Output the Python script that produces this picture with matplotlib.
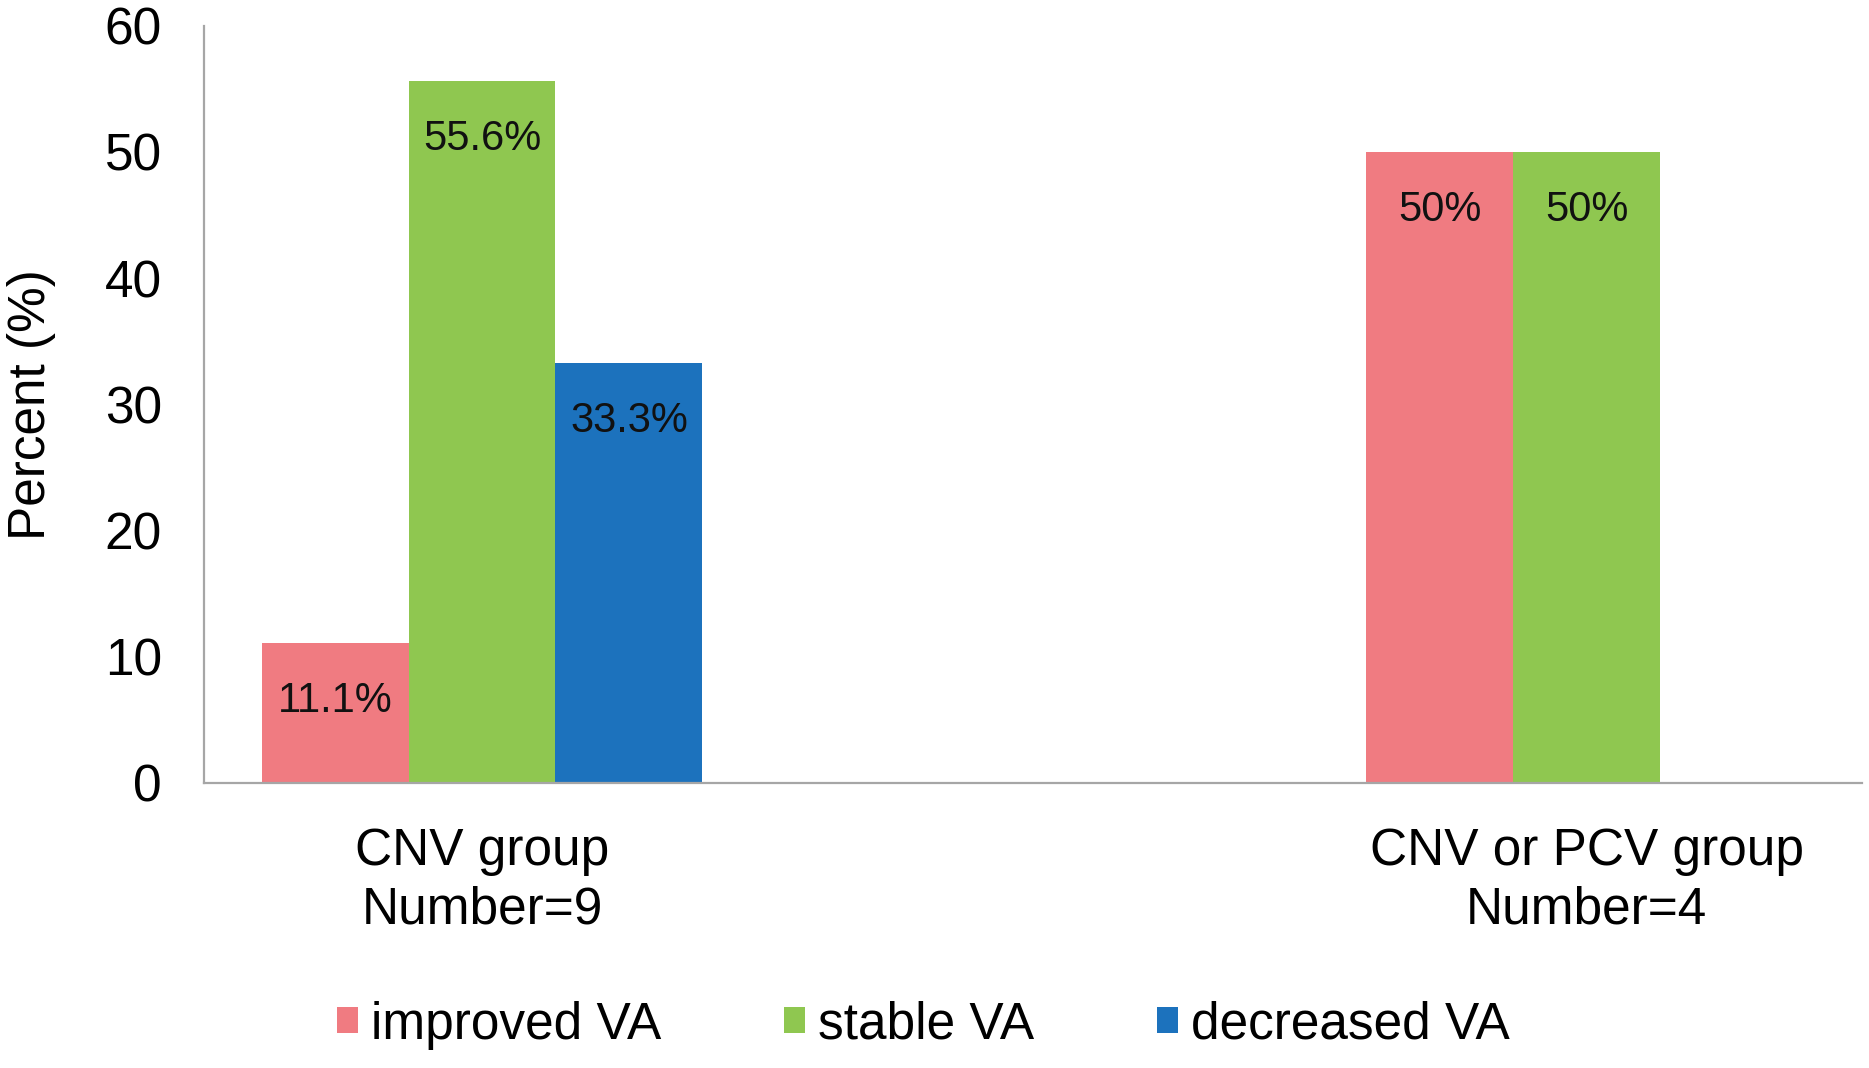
import matplotlib
matplotlib.use('Agg')
from matplotlib import pyplot as plt
from matplotlib.patches import Patch
import numpy as np

# データ
groups = ['CNV group\nNumber=9', 'CNV or PCV group\nNumber=4']
series_names = ['improved VA', 'stable VA', 'decreased VA']
improved = [11.1, 50]
stable = [55.6, 50]
decreased = [33.3, 0]
value_labels = [['11.1%', '50%'], ['55.6%', '50%'], ['33.3%', '']]
colors = ['#F07B81', '#8FC750', '#1C72BD']
y_ticks = [0, 10, 20, 30, 40, 50, 60]

plt.rcParams['font.family'] = ['Liberation Sans', 'DejaVu Sans']

fig = plt.figure(figsize=(18.69, 10.68), dpi=100)
ax = fig.add_axes([0.109, 0.267, 0.887, 0.709])

x = np.arange(len(groups))
width = 0.133
values = [improved, stable, decreased]

for i, vals in enumerate(values):
    pos = x + (i - 1) * width
    ax.bar(pos, vals, width, color=colors[i], linewidth=0)
    for p, v, lab in zip(pos, vals, value_labels[i]):
        if v <= 0:
            continue
        ax.annotate(lab, (p, v), xytext=(0, -42), textcoords='offset points',
                    ha='center', va='center', fontsize=30, color='#111111')

ax.set_xlim(-0.252, 1.249)
ax.set_ylim(0, 60)
ax.set_yticks(y_ticks)
ax.set_xticks(x)
ax.set_xticklabels(groups, fontsize=37, linespacing=1.25)
ax.tick_params(axis='y', labelsize=37, length=0, pad=30)
ax.tick_params(axis='x', length=0, pad=32)

for side in ['top', 'right']:
    ax.spines[side].set_visible(False)
for side in ['left', 'bottom']:
    ax.spines[side].set_color('#A6A6A6')
    ax.spines[side].set_linewidth(1.6)

fig.text(32 / 1869, (0.267 + 0.976) / 2, 'Percent (%)', rotation=90,
         ha='center', va='center', fontsize=37)

handles = [Patch(facecolor=c, edgecolor='none') for c in colors]
fig.legend(handles, series_names, loc='center', bbox_to_anchor=(0.494, 0.040),
           ncol=3, frameon=False, fontsize=37, handlelength=0.4, handleheight=0.4,
           handletextpad=0.25, columnspacing=2.4)

fig.savefig('out.png', dpi=100)
